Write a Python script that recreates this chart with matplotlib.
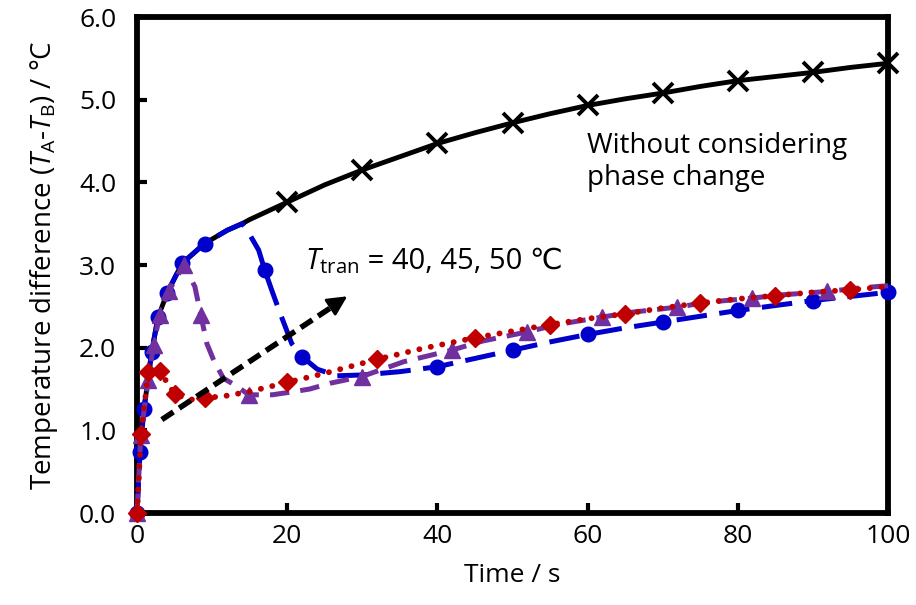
import numpy as np
import matplotlib
matplotlib.use("Agg")
import matplotlib.pyplot as plt

plt.rcParams['font.family'] = ['Open Sans', 'DejaVu Sans']
plt.rcParams['mathtext.fontset'] = 'custom'
plt.rcParams['mathtext.rm'] = 'Open Sans'
plt.rcParams['mathtext.it'] = 'Open Sans:italic'
plt.rcParams['lines.scale_dashes'] = False

# without considering phase change
t_none = [0, 0.3, 0.93, 1.95, 2.8, 4, 6, 9, 12, 14, 15, 20, 25, 30, 35, 40, 45, 50,
          55, 60, 65, 70, 75, 80, 85, 90, 95, 100]
y_none = [0, 0.74, 1.26, 1.95, 2.37, 2.66, 3.02, 3.26, 3.42, 3.50, 3.55, 3.76, 3.97,
          4.15, 4.31, 4.47, 4.60, 4.72, 4.83, 4.93, 5.01, 5.08, 5.16, 5.23, 5.28,
          5.33, 5.39, 5.44]
mk_none = [11, 13, 15, 17, 19, 21, 23, 25, 27]

# Ttran = 50
t_50 = [0, 0.4, 0.93, 1.95, 2.8, 4, 6, 9, 12, 14, 14.8, 16.2, 17, 18, 19, 20.6, 22,
        24, 26.6, 30, 35, 40, 45, 50, 55, 60, 65, 70, 75, 80, 85, 90, 95, 100]
y_50 = [0, 0.74, 1.26, 1.95, 2.37, 2.66, 3.02, 3.26, 3.42, 3.50, 3.40, 3.18, 2.94,
        2.68, 2.43, 2.05, 1.89, 1.74, 1.66, 1.67, 1.71, 1.77, 1.87, 1.97, 2.07,
        2.16, 2.24, 2.31, 2.38, 2.45, 2.51, 2.57, 2.62, 2.67]
mk_50 = [0, 1, 2, 3, 4, 5, 6, 7, 12, 16, 21, 23, 25, 27, 29, 31, 33]

# Ttran = 45
t_45 = [0, 0.5, 1.5, 2.2, 3, 4.2, 6.2, 7.7, 8.5, 9.3, 10.2, 11.5, 13, 14.9, 18, 21,
        23, 25.7, 29.9, 35.5, 41.9, 46, 51.9, 56, 61.9, 66, 71.9, 76, 81.9, 86,
        91.9, 96, 100]
y_45 = [0, 0.95, 1.61, 2.03, 2.39, 2.68, 3.0, 2.74, 2.39, 2.05, 1.85, 1.63, 1.55,
        1.43, 1.43, 1.47, 1.50, 1.57, 1.65, 1.83, 1.97, 2.08, 2.19, 2.28, 2.37,
        2.43, 2.49, 2.55, 2.60, 2.64, 2.68, 2.72, 2.75]
mk_45 = [0, 1, 2, 3, 4, 5, 6, 8, 13, 18, 20, 22, 24, 26, 28, 30]

# Ttran = 40
t_40 = [0, 0.53, 1.5, 3, 5, 7, 9, 12, 15, 20, 25, 32, 38, 45, 50, 55, 60, 65, 70,
        75, 80, 85, 90, 95, 100]
y_40 = [0, 0.96, 1.70, 1.72, 1.44, 1.37, 1.39, 1.42, 1.47, 1.58, 1.69, 1.86, 1.99,
        2.12, 2.20, 2.28, 2.35, 2.41, 2.48, 2.54, 2.59, 2.63, 2.67, 2.70, 2.74]
mk_40 = [0, 1, 2, 3, 4, 6, 9, 11, 13, 15, 17, 19, 21, 23]

fig = plt.figure(figsize=(9.16, 6.05), dpi=100)
ax = fig.add_axes([0.1496, 0.152, 0.8198, 0.8199])

ax.plot(t_none, y_none, color='black', lw=3.5, marker='x', ms=14, mew=2.8,
        markevery=mk_none, clip_on=False, zorder=3)
ax.plot(t_50, y_50, color='#0000CC', lw=3.6, dashes=(22, 9), marker='o', ms=10.5,
        markevery=mk_50, clip_on=False, zorder=4)
ax.plot(t_45, y_45, color='#7030A0', lw=3.6, dashes=(14, 8), marker='^', ms=12,
        markevery=mk_45, clip_on=False, zorder=5)
ax.plot(t_40, y_40, color='#C00000', lw=4.2, dashes=(0.1, 8.3), dash_capstyle='round',
        marker='D', ms=9.5, markevery=mk_40, clip_on=False, zorder=6)

# arrow
ax.plot([3.3, 26.4], [1.13, 2.52], color='black', lw=4, dashes=(10, 5), zorder=7)
ax.annotate('', xy=(28.3, 2.64), xytext=(25.6, 2.48),
            arrowprops=dict(arrowstyle='-|>', color='black', lw=2,
                            mutation_scale=30), zorder=7)

t1 = ax.text(22.4, 2.95, r'$\mathit{T}_\mathrm{tran}$', fontsize=21,
             ha='left', va='baseline')
ax.annotate(' = 40, 45, 50 ℃', xy=(1, 0), xycoords=t1, fontsize=21,
            ha='left', va='bottom')
ax.text(59.9, 4.25, 'Without considering\nphase change', fontsize=20,
        ha='left', va='center')

ax.set_xlim(0, 100)
ax.set_ylim(0, 6)
ax.set_xticks([0, 20, 40, 60, 80, 100])
ax.set_yticks(np.arange(0, 6.1, 1.0))
ax.set_yticklabels(['%.1f' % v for v in np.arange(0, 6.1, 1.0)])
ax.tick_params(direction='in', length=7, width=3, labelsize=19)
ax.tick_params(axis='y', pad=15)
ax.tick_params(axis='x', pad=8)
for s in ax.spines.values():
    s.set_linewidth(4.2)

ax.set_xlabel('Time / s', fontsize=19, labelpad=10)
ax.set_ylabel(r'Temperature difference ($\mathit{T}_\mathrm{A}$-$\mathit{T}_\mathrm{B}$) / °C',
              fontsize=20, labelpad=14)

fig.savefig('out.png', dpi=100)
